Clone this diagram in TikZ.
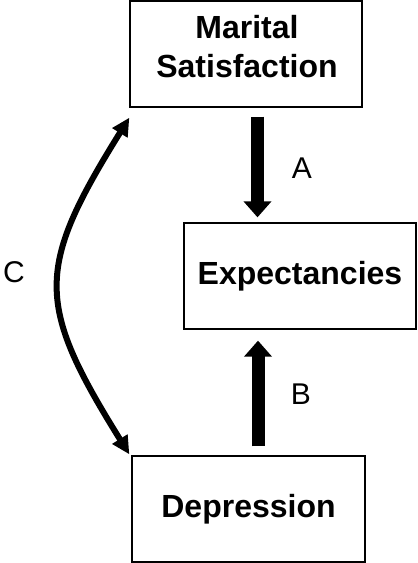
\documentclass[tikz,border=0pt]{standalone}
\usepackage{fontspec}
\setmainfont{Liberation Sans}
\usetikzlibrary{arrows.meta}
\begin{document}
\begin{tikzpicture}[x=1pt,y=-1pt,
  box/.style={draw, line width=1.3pt, minimum width=232pt, minimum height=106pt, align=center,
    font=\bfseries\fontsize{32}{39}\selectfont, inner sep=0pt},
  boxtext/.style={align=center, font=\bfseries\fontsize{32}{39}\selectfont, inner sep=0pt},
  lbl/.style={font=\fontsize{30}{36}\selectfont, inner sep=0pt},
  bigarrow/.style={line width=13pt, -{Triangle[length=16pt,width=27pt]}},
  curvarrow/.style={line width=6pt, {Triangle[length=18pt,width=17pt]}-{Triangle[length=18pt,width=17pt]}}]
\useasboundingbox (0,0) rectangle (418,563);
\node[box] (ms) at (246,54) {};
\node[boxtext] (mst) at (247,47) {Marital\\Satisfaction};
\node[box] (ex) at (300,276) {Expectancies};
\node[box, minimum width=233pt] (dep) at (248.5,509) {Depression};
\draw[bigarrow] ([xshift=11.5pt,yshift=-9pt]ms.south) -- ([xshift=-42.5pt,yshift=5pt]ex.north);
\draw[bigarrow] ([xshift=9.5pt,yshift=9pt]dep.north) -- ([xshift=-42pt,yshift=-11pt]ex.south);
\coordinate (ctop) at ([yshift=-10pt]ms.south west);
\coordinate (cbot) at ([xshift=-2pt,yshift=1pt]dep.north west);
\draw[curvarrow] (ctop) .. controls +(-94,151) and +(-94,-151) .. (cbot);
\node[lbl] (la) at (302,168) {A};
\node[lbl] (lb) at (301,394) {B};
\node[lbl] (lc) at (14,272) {C};
\end{tikzpicture}
\end{document}
